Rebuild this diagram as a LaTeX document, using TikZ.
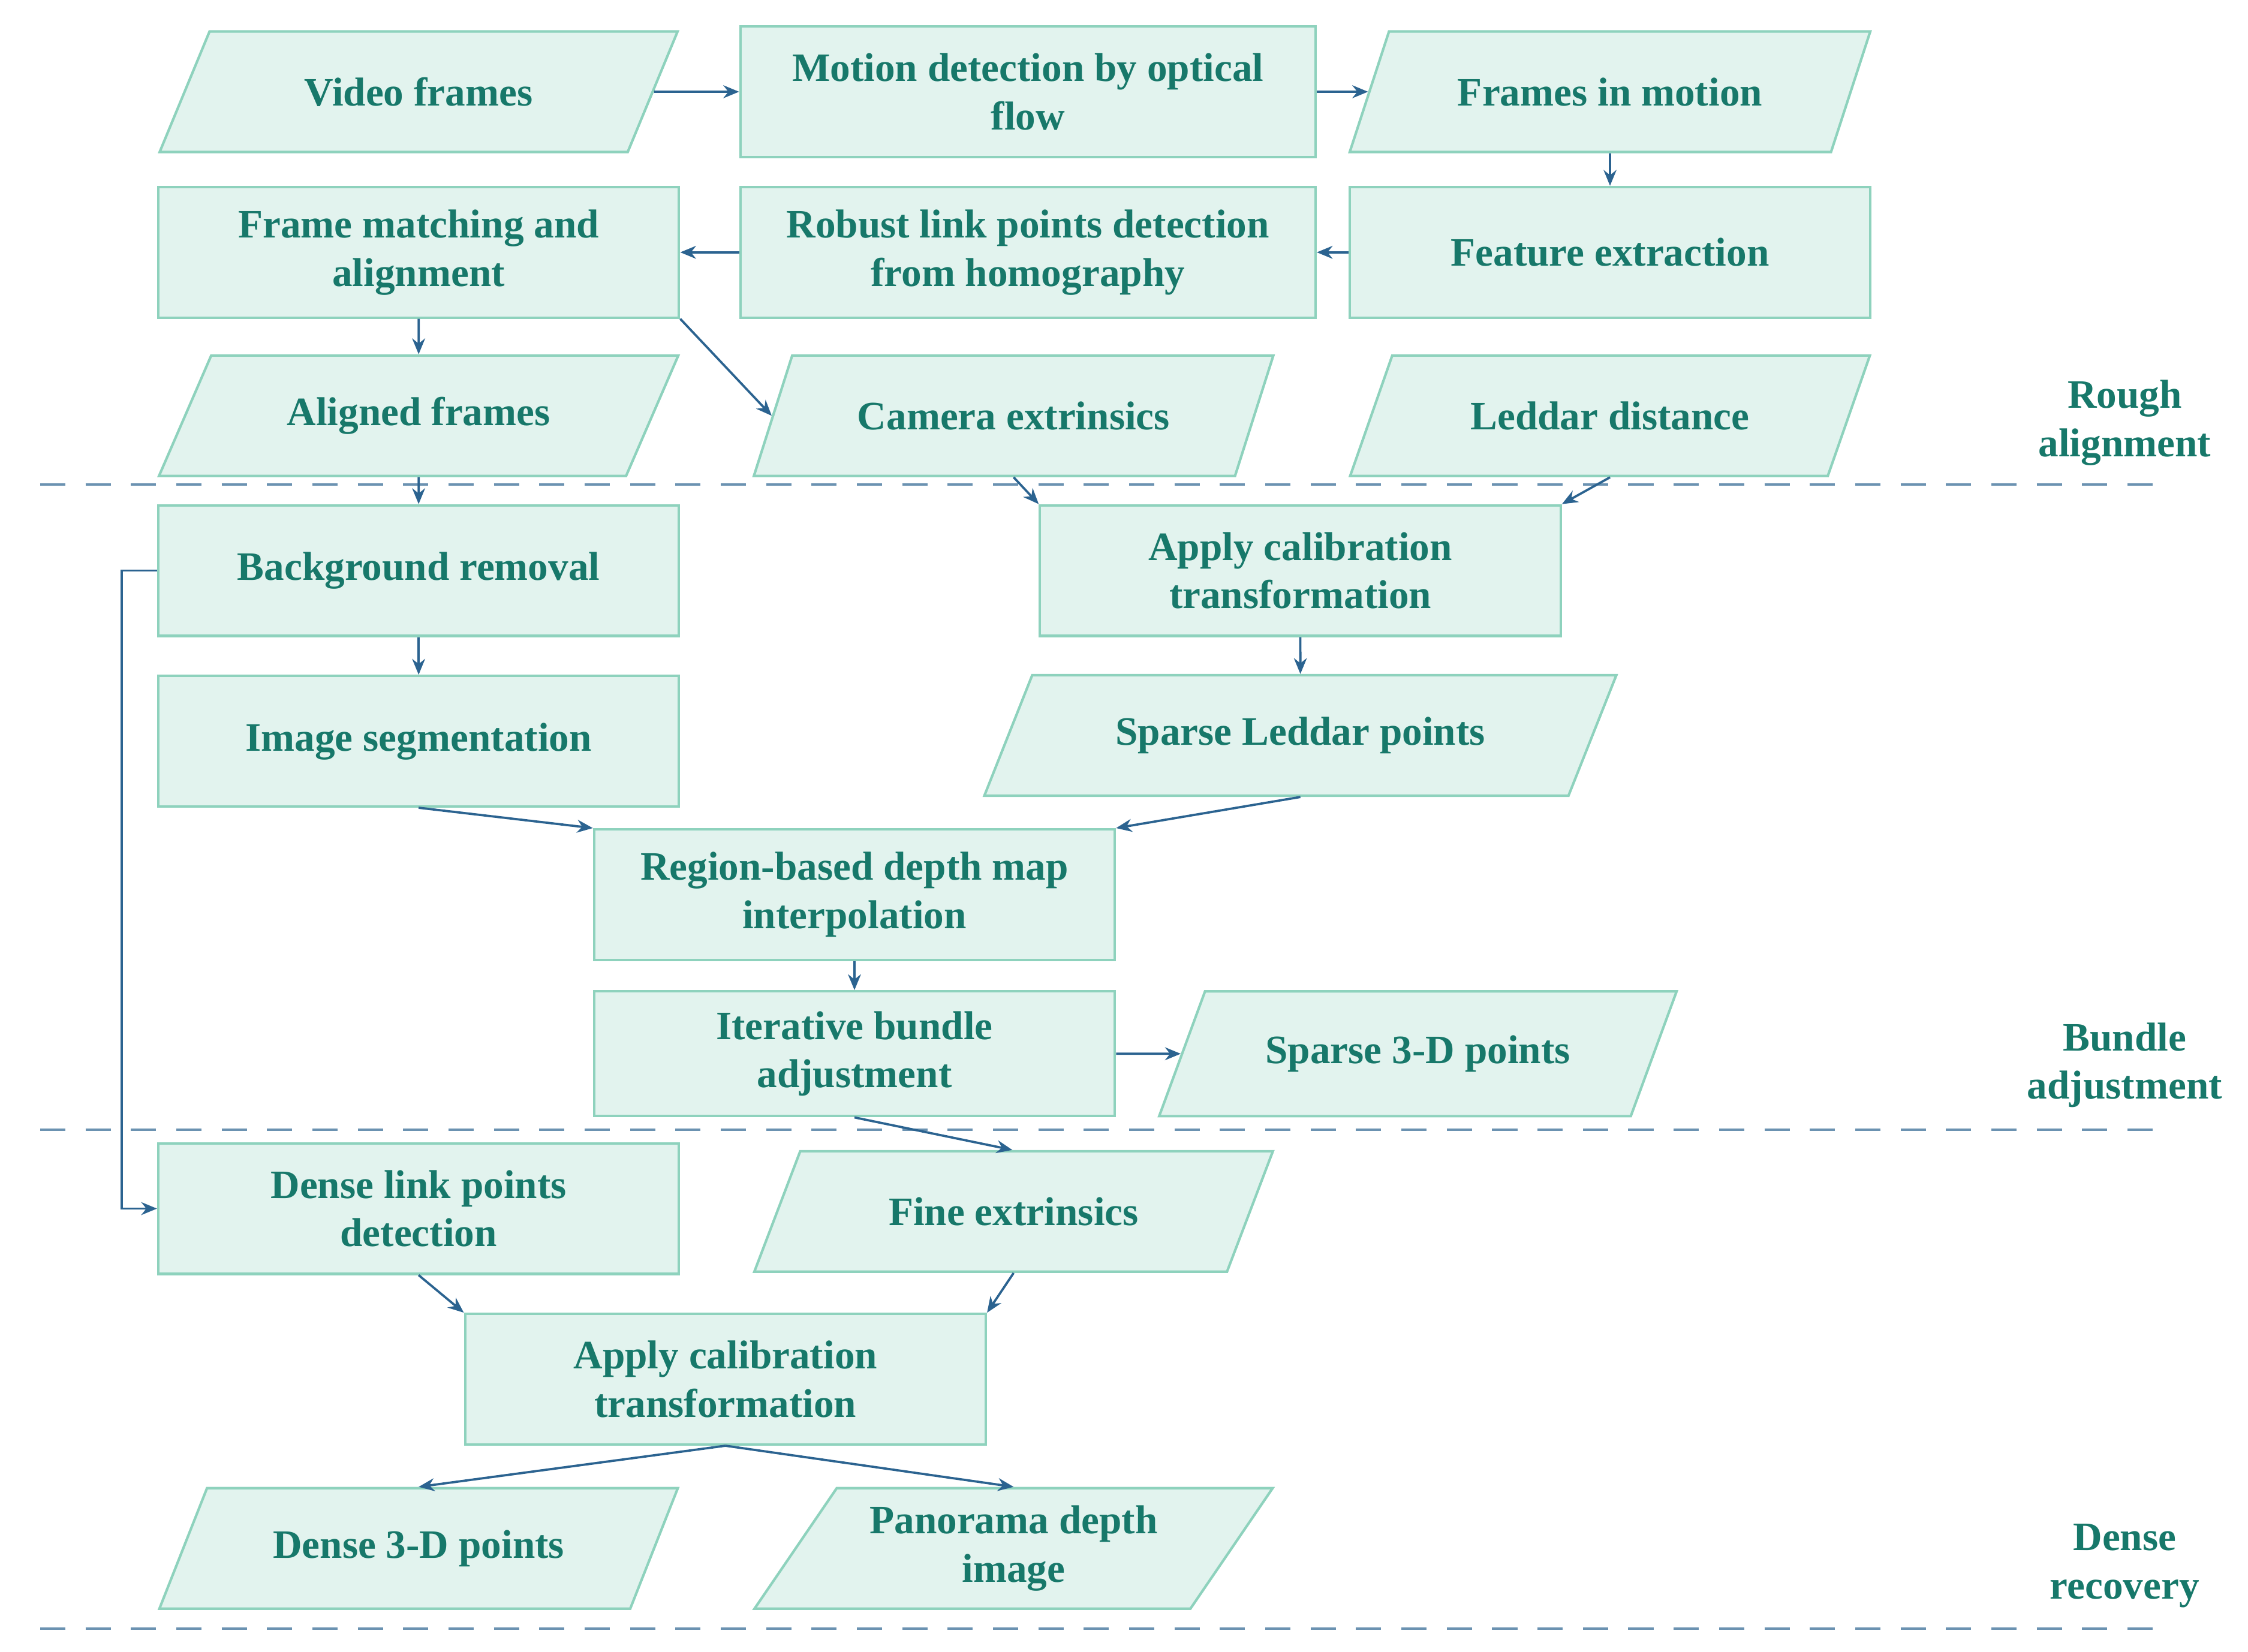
\documentclass[tikz,border=0pt]{standalone}
\usepackage{fontspec}
\setmainfont{Liberation Serif}
\usetikzlibrary{shapes.geometric,arrows.meta}
\definecolor{boxfill}{HTML}{E2F3EE}
\definecolor{boxline}{HTML}{8ED2BD}
\definecolor{boxtext}{HTML}{17786A}
\definecolor{arrowc}{HTML}{2B6390}
\tikzset{>={Stealth[length=1.1mm,width=0.9mm]}}
\begin{document}
\begin{tikzpicture}[x=0.01cm,y=-0.01cm,
		box/.style = {draw=boxline, fill=boxfill, line width=0.5pt,
			text=boxtext, font=\fontsize{8}{9.6}\selectfont\bfseries,
			align=center, minimum width=3.63cm, minimum height=0.91cm, inner sep=1pt},
		data/.style = {box, trapezium, trapezium left angle=54, trapezium right angle=126,
			trapezium stretches=true, minimum height=0.84cm},
		lbl/.style = {text=boxtext, font=\fontsize{8}{9.6}\selectfont\bfseries, align=center},
		link/.style = {->, draw=arrowc, line width=0.45pt},
		sep/.style = {dashed, dash pattern=on 5pt off 4pt, draw=arrowc!70, line width=0.45pt},
	]
	\useasboundingbox (0,0) rectangle (1568,1152);
	% rough alignment
	\node[data] (video) at (292,64) {Video frames};
	\node[box, minimum width=4.01cm] (motion) at (717,64) {Motion detection by optical\\flow};
	\node[data] (inmotion) at (1123,64) {Frames in motion};
	\node[box] (matching) at (292,176) {Frame matching and\\alignment};
	\node[box, minimum width=4.01cm] (robust) at (717,176) {Robust link points detection\\from homography};
	\node[box] (feature) at (1123,176) {Feature extraction};
	\node[data] (aligned) at (292,290) {Aligned frames};
	\node[data] (camera) at (707,290) {Camera extrinsics};
	\node[data] (leddar) at (1123,290) {Leddar distance};
	% bundle adjustment
	\node[box] (backgr) at (292,398) {Background removal};
	\node[box] (calib) at (907,398) {Apply calibration\\transformation};
	\node[box] (segm) at (292,517) {Image segmentation};
	\node[data, minimum width=4.43cm] (sparseled) at (907,513) {Sparse Leddar points};
	\node[box] (region) at (596,624) {Region-based depth map\\interpolation};
	\node[box, minimum height=0.87cm] (bundle) at (596,735) {Iterative bundle\\adjustment};
	\node[data, minimum height=0.87cm] (sparse3d) at (989,735) {Sparse 3-D points};
	% dense recovery
	\node[box] (denselink) at (292,843) {Dense link points\\detection};
	\node[data] (fine) at (707,845) {Fine extrinsics};
	\node[box] (calibb) at (506,962) {Apply calibration\\transformation};
	\node[data] (dense3d) at (292,1080) {Dense 3-D points};
	\node[data] (panorama) at (707,1080) {Panorama depth\\image};
	% stage labels
	\node[lbl] (lrough) at (1482,295) {Rough\\alignment};
	\node[lbl] (lbundle) at (1482,743) {Bundle\\adjustment};
	\node[lbl] (ldense) at (1482,1092) {Dense\\recovery};
	\draw[sep] (28,338) -- (1510,338);
	\draw[sep] (28,788) -- (1510,788);
	\draw[sep] (28,1136) -- (1510,1136);
	% connectors
	\draw[link] (video.east) -- (motion.west);
	\draw[link] (motion.east) -- (inmotion.west);
	\draw[link] (inmotion.south) -- (feature.north);
	\draw[link] (feature.west) -- (robust.east);
	\draw[link] (robust.west) -- (matching.east);
	\draw[link] (matching.south) -- (aligned.north);
	\draw[link] (matching.south east) -- (camera.west);
	\draw[link] (aligned.south) -- (backgr.north);
	\draw[link] (camera.south) -- (calib.north west);
	\draw[link] (leddar.south) -- (calib.north east);
	\draw[link] (calib.south) -- (sparseled.north);
	\draw[link] (backgr.south) -- (segm.north);
	\draw[link] (segm.south) -- (region.north west);
	\draw[link] (sparseled.south) -- (region.north east);
	\draw[link] (region.south) -- (bundle.north);
	\draw[link] (bundle.east) -- (sparse3d.west);
	\draw[link] (bundle.south) -- ([xshift=0.42cm]fine.north west);
	\draw[link] (backgr.west) -| (85,620) |- (denselink.west);
	\draw[link] (denselink.south) -- (calibb.north west);
	\draw[link] (fine.south) -- (calibb.north east);
	\draw[link] (calibb.south) -- (dense3d.north);
	\draw[link] (calibb.south) -- (panorama.north);
\end{tikzpicture}
\end{document}
